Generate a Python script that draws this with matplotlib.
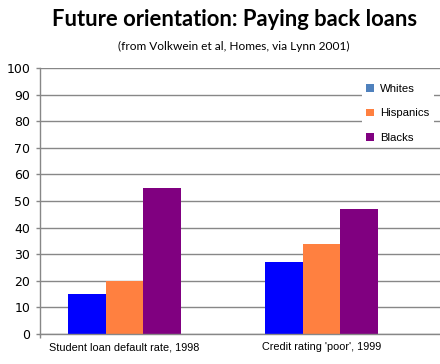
import numpy as np
import matplotlib.pyplot as plt
from matplotlib.patches import Patch

categories = ["Student loan default rate, 1998", "Credit rating 'poor', 1999"]
groups = ['Whites', 'Hispanics', 'Blacks']
whites = [15, 27]
hispanics = [20, 34]
blacks = [55, 47]

bar_colors = ['#0000FF', '#FF8040', '#800080']
legend_colors = ['#4F81BD', '#FF8040', '#800080']
grid_col = '#878787'

fig = plt.figure(figsize=(4.4, 3.64), dpi=100)
ax = fig.add_axes([40/440, 30/364, 400/440, 266/364])

x = np.arange(len(categories))
w = 0.1915
for i, vals in enumerate([whites, hispanics, blacks]):
    ax.bar(x + (i - 1)*w, vals, width=w, color=bar_colors[i], zorder=3)

ax.set_xlim(-0.429, 1.602)
ax.set_ylim(0, 100)
ax.set_yticks(np.arange(0, 101, 10))
ax.set_xticks(x)
ax.set_xticklabels(categories)
ax.set_xticks([-0.429], minor=True)

ax.grid(axis='y', color=grid_col, linewidth=1.0, zorder=0)
for s in ['top', 'right']:
    ax.spines[s].set_visible(False)
for s in ['left', 'bottom']:
    ax.spines[s].set_color(grid_col)
    ax.spines[s].set_linewidth(1.0)
    ax.spines[s].set_zorder(4)

ax.tick_params(axis='y', direction='out', length=3, width=1.0, color=grid_col,
               labelsize=9, pad=4)
ax.tick_params(axis='x', which='major', length=0, labelsize=7.8, pad=6)
ax.tick_params(axis='x', which='minor', direction='out', length=3, width=1.0, color=grid_col)
for lab in ax.get_yticklabels():
    lab.set_fontfamily('DejaVu Sans')
for lab in ax.get_xticklabels():
    lab.set_fontfamily('Liberation Sans')

handles = [Patch(facecolor=c, edgecolor='none') for c in legend_colors]
leg = ax.legend(handles, groups, loc='upper left', bbox_to_anchor=(356/440, 1 - 74/364),
                bbox_transform=fig.transFigure, frameon=True, fancybox=False,
                edgecolor='none', facecolor='white', framealpha=1,
                prop={'family': 'Liberation Sans', 'size': 8.2},
                handlelength=0.7, handleheight=0.7, handletextpad=0.5,
                labelspacing=1.25, borderpad=0.4)
leg.set_zorder(5)

fig.text(0.532, 1 - 20/364, 'Future orientation: Paying back loans',
         ha='center', va='center', fontsize=15.8, fontweight='bold', family='Lato')
fig.text(0.532, 1 - 46/364, '(from Volkwein et al, Homes, via Lynn 2001)',
         ha='center', va='center', fontsize=8.6, family='Lato')

fig.savefig('out.png', dpi=100)
